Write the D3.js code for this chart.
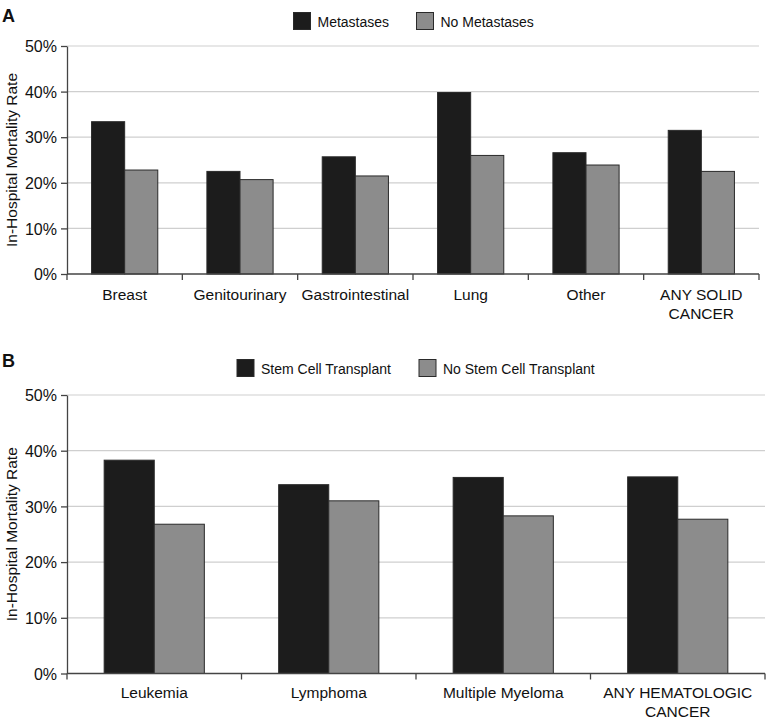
<!DOCTYPE html>
<html><head><meta charset="utf-8">
<script src="https://cdn.jsdelivr.net/npm/d3@7"></script>
<style>body{margin:0;background:#fff}svg{display:block}text{font-family:"Liberation Sans",Arial,Helvetica,sans-serif;fill:#111}</style>
</head><body><svg id="c" width="766" height="720"></svg>
<script>
const catsA = ["Breast","Genitourinary","Gastrointestinal","Lung","Other","ANY SOLID|CANCER"];
const metastases = [33.4,22.5,25.7,39.8,26.6,31.5];
const noMetastases = [22.8,20.7,21.5,26.0,23.9,22.5];
const seriesA = ["Metastases","No Metastases"];
const catsB = ["Leukemia","Lymphoma","Multiple Myeloma","ANY HEMATOLOGIC|CANCER"];
const sct = [38.3,33.9,35.2,35.3];
const noSct = [26.8,31.0,28.3,27.7];
const seriesB = ["Stem Cell Transplant","No Stem Cell Transplant"];
const yTicks = [0,10,20,30,40,50];
const yTitle = "In-Hospital Mortality Rate";
const colors = ["#1c1c1c","#8c8c8c"];

const svg = d3.select("#c");

function panel(opt){
  const {cats, vals, series, x0, x1, yTop, yBot, letter, letterY, legY, legX, labY, labDy} = opt;
  const g = svg.append("g");
  const x = d3.scaleBand().domain(cats).range([x0,x1]).padding(0);
  const inner = d3.scaleBand().domain(series).range([0,x.bandwidth()]).paddingInner(0).paddingOuter(0.742);
  const y = d3.scaleLinear().domain([0,50]).range([yBot,yTop]);
  g.selectAll("line.grid").data(yTicks.slice(1)).join("line")
    .attr("x1",x0).attr("x2",x1).attr("y1",d=>y(d)).attr("y2",d=>y(d))
    .attr("stroke","#cfcfcf").attr("stroke-width",1.2);
  series.forEach((s,si)=>{
    g.selectAll("rect.s"+si).data(cats).join("rect")
      .attr("x",c=>x(c)+inner(s)).attr("width",inner.bandwidth())
      .attr("y",(c,i)=>y(vals[si][i])).attr("height",(c,i)=>yBot-y(vals[si][i]))
      .attr("fill",colors[si]).attr("stroke","#2a2a2a").attr("stroke-width",1);
  });
  const ya = g.append("g").attr("transform",`translate(${x0},0)`)
    .call(d3.axisLeft(y).tickValues(yTicks).tickFormat(d=>d+"%").tickSize(6).tickSizeOuter(0));
  ya.select(".domain").attr("stroke","#444").attr("stroke-width",1.3);
  ya.selectAll(".tick line").attr("stroke","#444").attr("stroke-width",1.3);
  ya.selectAll(".tick text").attr("font-size",16).attr("x",-10).attr("dy","0.35em")
    .style("font-family","'Liberation Sans',Arial,sans-serif").attr("fill","#111");
  g.append("line").attr("x1",x0).attr("x2",x1).attr("y1",yBot).attr("y2",yBot).attr("stroke","#444").attr("stroke-width",1.3);
  const edges = cats.map(c=>x(c)).concat([x1]);
  g.selectAll("line.xt").data(edges).join("line")
    .attr("x1",d=>d).attr("x2",d=>d).attr("y1",yBot).attr("y2",yBot+6).attr("stroke","#444").attr("stroke-width",1.3);
  cats.forEach(c=>{
    const lines = c.split("|");
    const t = g.append("text").attr("x",x(c)+x.bandwidth()/2).attr("y",labY)
      .attr("text-anchor","middle").attr("font-size",15.5);
    lines.forEach((l,i)=>t.append("tspan").attr("x",x(c)+x.bandwidth()/2).attr("dy",i?labDy:0).text(l));
  });
  g.append("text").attr("transform",`translate(17,${(yTop+yBot)/2}) rotate(-90)`)
    .attr("text-anchor","middle").attr("font-size",15.5).text(yTitle);
  g.append("text").attr("x",2).attr("y",letterY).attr("font-size",18).attr("font-weight","bold").text(letter);
  series.forEach((s,si)=>{
    g.append("rect").attr("x",legX[si]).attr("y",legY-14).attr("width",17).attr("height",17)
      .attr("fill",colors[si]).attr("stroke","#2a2a2a");
    g.append("text").attr("x",legX[si]+24).attr("y",legY).attr("font-size",14).text(s);
  });
}

panel({cats:catsA, vals:[metastases,noMetastases], series:seriesA, x0:67, x1:759, yTop:46, yBot:274,
  letter:"A", letterY:22, legY:26.5, legX:[293.5,416.5], labY:300, labDy:19});
panel({cats:catsB, vals:[sct,noSct], series:seriesB, x0:67, x1:765, yTop:395, yBot:673.5,
  letter:"B", letterY:367, legY:373.5, legX:[237,419], labY:698, labDy:18.5});
</script></body></html>
